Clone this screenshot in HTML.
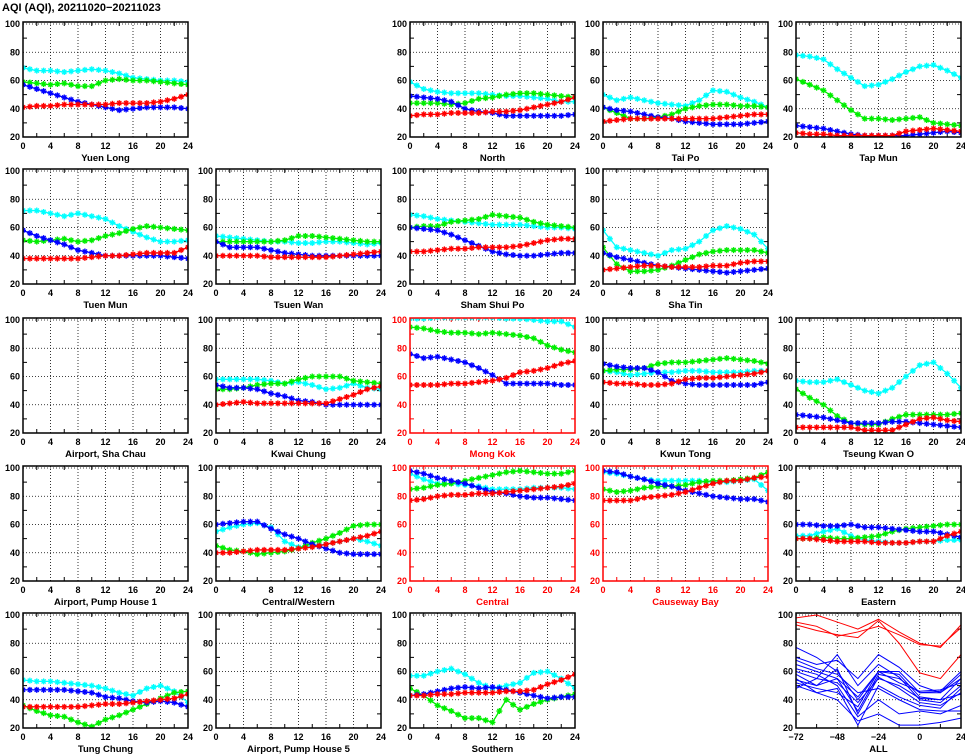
<!DOCTYPE html>
<html><head><meta charset="utf-8">
<style>
html,body{margin:0;padding:0;background:#fff;width:965px;height:755px;overflow:hidden}
svg{display:block}
text{font-family:"Liberation Sans",sans-serif;font-weight:bold}
</style></head>
<body>
<svg id="chart" width="965" height="755" viewBox="0 0 965 755" xmlns="http://www.w3.org/2000/svg">
<text x="2" y="11" font-size="11">AQI (AQI), 20211020−20211023</text>
</svg>
<script>
// hours 0,2,...,24
const hours = [0,2,4,6,8,10,12,14,16,18,20,22,24];
const seriesColors = ['#00ffff','#00ee00','#0000ff','#ff0000'];
const yTicks = [20,40,60,80,100];
const xTicks = [0,4,8,12,16,20,24];
const allTicks = [-72,-48,-24,0,24];

const stations = ['Yuen Long','North','Tai Po','Tap Mun','Tuen Mun','Tsuen Wan','Sham Shui Po','Sha Tin','Airport, Sha Chau','Kwai Chung','Mong Kok','Kwun Tong','Tseung Kwan O','Airport, Pump House 1','Central/Western','Central','Causeway Bay','Eastern','Tung Chung','Airport, Pump House 5','Southern'];
const stationRow = [0,0,0,0,1,1,1,1,2,2,2,2,2,3,3,3,3,3,4,4,4];
const stationCol = [0,2,3,4,0,1,2,3,0,1,2,3,4,0,1,2,3,4,0,1,2];
const roadside = ['Mong Kok','Central','Causeway Bay'];

const cyanVals = {
'Yuen Long':[69,67,67,66,67,68,67,65,62,61,60,60,59],
'North':[59,54,52,51,51,51,50,49,49,48,47,45,45],
'Tai Po':[50,46,48,46,44,43,42,46,53,52,48,45,41],
'Tap Mun':[78,77,75,68,62,56,57,61,66,70,71,67,62],
'Tuen Mun':[72,72,70,68,70,68,66,61,57,53,50,50,51],
'Tsuen Wan':[54,53,52,51,50,50,49,49,50,50,49,48,49],
'Sham Shui Po':[69,68,66,65,64,63,62,62,62,61,60,60,59],
'Sha Tin':[58,46,44,42,40,44,45,50,58,61,59,55,45],
'Kwai Chung':[58,58,58,58,57,55,56,54,51,52,55,52,51],
'Mong Kok':[101,101,102,102,102,102,102,101,101,100,99,99,95],
'Kwun Tong':[64,63,61,62,63,63,64,64,63,63,63,64,64],
'Tseung Kwan O':[57,56,56,58,54,50,48,52,60,68,70,62,52],
'Central/Western':[55,58,60,61,58,48,44,45,46,48,50,48,45],
'Central':[96,92,89,89,88,87,85,85,85,86,86,86,85],
'Causeway Bay':[97,96,94,92,91,91,91,91,90,90,91,92,84],
'Eastern':[52,52,55,57,52,49,48,47,47,48,48,49,49],
'Tung Chung':[54,53,53,52,51,50,48,45,43,48,50,46,38],
'Southern':[57,57,60,62,58,52,48,50,52,59,60,55,48]};
const greenVals = {
'Yuen Long':[59,58,57,58,56,56,60,61,60,60,59,58,57],
'North':[44,44,44,43,44,47,48,50,51,51,50,49,48],
'Tai Po':[41,37,33,33,34,36,40,42,43,43,42,42,41],
'Tap Mun':[61,57,53,46,39,33,33,32,33,34,30,29,28],
'Tuen Mun':[51,50,51,52,50,51,54,56,59,61,60,59,58],
'Tsuen Wan':[50,50,50,50,50,51,54,54,53,52,51,50,50],
'Sham Shui Po':[60,61,61,64,65,66,69,68,67,64,62,61,60],
'Sha Tin':[46,34,29,29,30,33,37,41,43,44,44,44,42],
'Kwai Chung':[51,51,52,54,55,55,58,60,60,60,57,56,55],
'Mong Kok':[95,94,92,91,91,90,91,90,89,87,82,79,77],
'Kwun Tong':[64,65,65,66,69,70,70,71,72,73,72,71,69],
'Tseung Kwan O':[51,45,40,32,27,26,26,30,33,33,33,33,34],
'Central/Western':[45,42,41,39,40,41,43,47,50,54,59,60,60],
'Central':[85,86,88,89,91,93,95,97,98,97,96,96,98],
'Causeway Bay':[85,83,84,86,87,87,88,90,91,91,92,93,97],
'Eastern':[50,50,51,50,50,51,52,55,57,58,59,60,60],
'Tung Chung':[36,32,29,28,24,21,26,29,33,37,41,45,46],
'Southern':[48,43,36,32,27,27,24,40,33,37,40,42,44]};
const blueVals = {
'Yuen Long':[57,54,51,48,45,43,41,39,40,41,41,41,40],
'North':[49,48,47,45,40,38,37,35,35,35,35,35,36],
'Tai Po':[41,39,38,36,34,33,31,30,29,29,29,30,31],
'Tap Mun':[28,27,26,24,22,21,21,21,21,22,23,24,23],
'Tuen Mun':[58,54,51,48,44,42,40,40,40,40,40,39,38],
'Tsuen Wan':[50,46,46,46,44,42,41,40,40,40,40,40,40],
'Sham Shui Po':[60,59,58,55,51,47,43,41,40,40,41,42,42],
'Sha Tin':[42,39,37,35,33,32,31,30,29,28,29,30,31],
'Kwai Chung':[54,52,52,51,48,46,43,42,40,40,40,40,40],
'Mong Kok':[76,73,74,72,70,66,61,55,55,55,55,54,54],
'Kwun Tong':[69,67,66,66,63,57,55,54,54,54,54,54,56],
'Tseung Kwan O':[33,32,31,29,27,27,27,28,28,27,26,25,24],
'Central/Western':[60,61,62,62,57,53,50,46,43,40,39,39,39],
'Central':[98,96,93,91,89,86,83,82,80,79,79,78,77],
'Causeway Bay':[98,97,94,92,89,87,84,82,80,79,78,78,76],
'Eastern':[60,60,59,59,60,58,58,57,56,55,55,53,51],
'Tung Chung':[47,47,47,47,46,45,42,41,39,38,39,38,35],
'Southern':[43,44,46,48,49,48,49,47,45,43,41,42,42]};
const redVals = {
'Yuen Long':[41,42,42,43,43,43,43,44,44,44,45,47,50],
'North':[35,36,36,37,37,37,38,38,39,41,43,45,48],
'Tai Po':[31,32,33,33,33,33,33,33,33,34,35,36,36],
'Tap Mun':[23,22,22,21,21,21,21,21,24,25,26,25,24],
'Tuen Mun':[38,38,38,38,38,39,40,40,41,42,42,42,46],
'Tsuen Wan':[40,40,40,40,39,39,39,39,39,40,41,42,43],
'Sham Shui Po':[43,43,44,45,45,46,46,46,47,49,51,52,52],
'Sha Tin':[30,31,32,33,33,32,32,32,33,33,35,36,36],
'Kwai Chung':[40,41,42,41,41,41,41,41,41,44,47,51,53],
'Mong Kok':[54,54,54,55,55,56,57,59,63,64,66,69,71],
'Kwun Tong':[56,55,55,54,54,55,58,59,59,60,61,62,64],
'Tseung Kwan O':[24,24,24,24,24,22,22,22,26,30,31,29,28],
'Central/Western':[40,40,41,42,42,42,43,44,46,48,50,52,55],
'Central':[77,78,80,81,81,82,82,83,84,85,86,87,89],
'Causeway Bay':[77,77,77,79,80,81,83,86,89,91,91,93,94],
'Eastern':[50,50,49,48,48,48,47,47,47,48,48,52,55],
'Tung Chung':[35,35,35,35,35,36,37,37,38,39,40,41,44],
'Southern':[43,43,44,44,45,45,45,46,46,47,51,54,58]};

// ALL panel: hours -72..24 step 12
const allHours = [-72,-60,-48,-36,-24,-12,0,12,24];
const allRed = [
[98,100,95,90,97,88,80,77,93],
[95,92,85,88,92,86,79,78,91],
[93,89,86,84,96,80,59,55,72]];
const allBlue = [
[77,70,60,40,60,60,45,46,60],
[70,65,68,55,72,63,50,45,58],
[65,60,55,42,60,58,42,40,55],
[60,55,72,50,65,56,40,38,50],
[58,50,62,30,56,48,38,36,45],
[55,45,48,22,50,42,36,34,48],
[52,48,45,35,60,52,46,47,52],
[62,58,50,28,40,30,32,30,36],
[50,45,40,25,30,22,22,24,27],
[48,55,52,38,55,50,41,40,44],
[68,62,58,45,48,40,33,32,32],
[54,50,55,32,58,55,45,45,55]];

const NS='http://www.w3.org/2000/svg';
const svg=document.getElementById('chart');
const colX=[23,216,410,603,796], rowY=[24,171,320,468,615];
const PW=165, PH=113, YMIN=20, YMAX=100;
function mk(tag,attrs,parent){const e=document.createElementNS(NS,tag);for(const k in attrs)e.setAttribute(k,attrs[k]);(parent||svg).appendChild(e);return e;}

function drawPanel(name,r,c,xmin,xmax,ticks,isAll){
  const x0=colX[c], y0=rowY[r];
  const red=roadside.includes(name);
  const col=red?'#ff0000':'#000';
  const g=mk('g',{});
  
  
  const sx=v=>x0+(v-xmin)/(xmax-xmin)*PW;
  const sy=v=>y0+PH-(v-YMIN)/(YMAX-YMIN)*PH;
  ticks.forEach(t=>{ if(t!==xmin&&t!==xmax) mk('line',{x1:sx(t),x2:sx(t),y1:y0-2,y2:y0+PH,stroke:'#000','stroke-width':0.8,'stroke-dasharray':'1,2'},g);});
  yTicks.forEach(t=>{ if(t!==YMIN) mk('line',{x1:x0,x2:x0+PW,y1:sy(t),y2:sy(t),stroke:'#000','stroke-width':0.8,'stroke-dasharray':'1,2'},g);});
  for(let t=30;t<100;t+=20){mk('line',{x1:x0,x2:x0+4,y1:sy(t),y2:sy(t),stroke:col,'stroke-width':1},g);mk('line',{x1:x0+PW,x2:x0+PW-4,y1:sy(t),y2:sy(t),stroke:col,'stroke-width':1},g);}
  const step=(ticks[1]-ticks[0])/2;
  for(let t=xmin+step;t<xmax;t+=step*2){mk('line',{x1:sx(t),x2:sx(t),y1:y0+PH,y2:y0+PH-4,stroke:col,'stroke-width':1},g);mk('line',{x1:sx(t),x2:sx(t),y1:y0-2,y2:y0+2,stroke:col,'stroke-width':1},g);}
  const cid='clip'+r+'_'+c;
  const cp=mk('clipPath',{id:cid},g); mk('rect',{x:x0,y:y0-2,width:PW,height:PH+2},cp);
  const dg=mk('g',{'clip-path':'url(#'+cid+')'},g);
  if(isAll){
    allBlue.forEach(s=>{const p=mk('polyline',{points:s.map((v,i)=>sx(allHours[i])+','+sy(v)).join(' '),fill:'none',stroke:'#0000ff','stroke-width':1},dg);
      
      });
    allRed.forEach(s=>{const p=mk('polyline',{points:s.map((v,i)=>sx(allHours[i])+','+sy(v)).join(' '),fill:'none',stroke:'#ff0000','stroke-width':1},dg);
      
      });
  } else if(cyanVals[name]){
    [cyanVals,greenVals,blueVals,redVals].forEach((set,si)=>{
      const vals=set[name]; const cc=seriesColors[si];
      const p=mk('polyline',{points:vals.map((v,i)=>sx(hours[i])+','+sy(v)).join(' '),fill:'none',stroke:cc,'stroke-width':1.3},dg);
      
      
      const d=[];
      vals.forEach((v,i)=>{
        for(let k=0;k<2;k++){const hx=k===0?hours[i]:(i<vals.length-1?hours[i]+1:null); if(hx===null)continue;
          const vv=k===0?v:(v+vals[i+1])/2; const X=sx(hx),Y=sy(vv),s=3.0;
          d.push(`M${X-s},${Y}H${X+s}M${X},${Y-s}V${Y+s}M${X-s*.7},${Y-s*.7}L${X+s*.7},${Y+s*.7}M${X-s*.7},${Y+s*.7}L${X+s*.7},${Y-s*.7}`);}
      });
      const m=mk('path',{d:d.join(''),stroke:cc,'stroke-width':1.3,fill:'none'},dg);
      
      
    });
  }
  mk('rect',{x:x0,y:y0-2,width:PW,height:PH+2,fill:'none',stroke:col,'stroke-width':1.5},g);
  yTicks.forEach(t=>{const e=mk('text',{x:x0-3,y:sy(t)+3,'font-size':9,'text-anchor':'end',fill:col},g);e.textContent=t;});
  ticks.forEach(t=>{const e=mk('text',{x:sx(t),y:y0+PH+12,'font-size':9,'text-anchor':'middle',fill:col},g);e.textContent=(t<0?'−'+(-t):t);});
  const tl=mk('text',{x:x0+PW/2,y:y0+PH+24,'font-size':9.5,'text-anchor':'middle',fill:col,'font-family':'Liberation Serif,serif'},g);
  tl.textContent=name;
  
  
}
stations.forEach((s,i)=>drawPanel(s,stationRow[i],stationCol[i],0,24,xTicks,false));
drawPanel('ALL',4,4,-72,24,allTicks,true);
</script>
</body></html>
